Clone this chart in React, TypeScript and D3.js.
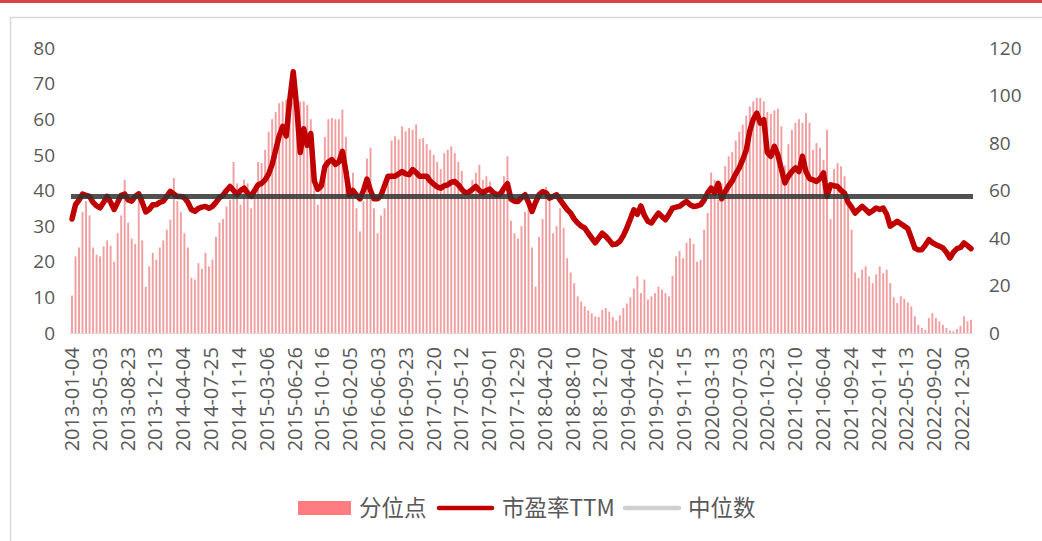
import React from 'react';
import * as d3 from 'd3';

// x-axis category labels (weekly trading dates, every 16th shown)
const dateLabels = [
  '2013-01-04', '2013-05-03', '2013-08-23', '2013-12-13', '2014-04-04', '2014-07-25',
  '2014-11-14', '2015-03-06', '2015-06-26', '2015-10-16', '2016-02-05', '2016-06-03',
  '2016-09-23', '2017-01-20', '2017-05-12', '2017-09-01', '2017-12-29', '2018-04-20',
  '2018-08-10', '2018-12-07', '2019-04-04', '2019-07-26', '2019-11-15', '2020-03-13',
  '2020-07-03', '2020-10-23', '2021-02-10', '2021-06-04', '2021-09-24', '2022-01-14',
  '2022-05-13', '2022-09-02', '2022-12-30',
];

// 分位点 (left axis)
const percentile = [
  10.5, 21.5, 24, 34, 37, 33, 24, 22, 21.5, 24.3, 26, 24.5, 20, 28, 33, 43, 31, 26.5, 25, 38,
  26, 13, 18.7, 22.5, 20.6, 24, 26, 29, 31.8, 43.5, 37, 34, 28, 24, 15.5, 15, 19.6, 18, 22.5, 18.7,
  20.6, 27, 31, 32, 35.5, 37.4, 48, 42, 36, 43, 42, 35, 41, 48, 47.7, 51.4, 56.5, 60, 62, 64.5,
  65, 65.5, 66, 65, 64, 65, 65, 64, 60, 48, 36, 41, 55, 60, 60.3, 60, 60, 62.7, 55, 42,
  45, 35, 28.5, 37, 49, 52, 35, 28, 33, 35, 42, 54, 55.2, 54.3, 58, 56.6, 57.5, 57, 58.5, 54.5,
  54.7, 53, 51.4, 50, 48, 46, 50.5, 51.4, 52.4, 50.5, 48, 45.5, 38, 40.5, 43, 45, 47.2, 43, 44, 42.5,
  40, 38.4, 39, 44, 49.6, 31.5, 28, 26.5, 30, 34, 36, 24, 13, 27, 32, 41, 38, 28, 30, 35,
  29.5, 21, 17, 14, 10.3, 8.8, 7.5, 6.3, 5.5, 4.6, 4.5, 6.5, 7, 6, 4.5, 3.5, 5, 7, 8.3, 10,
  12.5, 15.9, 11.2, 15, 9.4, 10.3, 11.2, 13, 12.2, 11.2, 10.3, 16, 21.5, 23, 21, 25.3, 26.6, 25, 20, 20.5,
  29, 33.7, 45, 43, 37.4, 42, 46.8, 49.6, 50.8, 54, 56.5, 58.5, 61, 63.6, 65, 66, 66, 65, 62, 61.5,
  62.5, 63, 58, 47, 53, 57, 59, 60, 59, 61.7, 59, 51.4, 53.3, 52, 48.6, 57, 32, 46, 47.7, 46.8,
  44, 36.5, 29, 17, 15.4, 17.8, 18.7, 15.9, 14, 16.5, 18.7, 16.8, 17.8, 14, 10, 8.4, 10.3, 9.6, 8.6, 7.5,
  4.7, 2.3, 1.4, 0.9, 4.2, 5.6, 4.2, 3.3, 2.3, 1.4, 0.7, 0.5, 1.1, 2, 4.7, 3.3, 3.7,
];

// 市盈率TTM (right axis)
const peTTM = [
  48, 54, 56, 58.5, 58, 57.5, 55, 53.5, 52.7, 55, 57.5, 55, 52, 55, 58, 58.5, 56, 55.5, 57.5, 58.6,
  55, 51, 52, 54, 54, 55, 55.5, 57.5, 59.6, 58.5, 57.5, 57.5, 57, 55, 52, 51.2, 52.5, 53, 53.3, 52.5,
  53.3, 55, 57, 58, 60, 61.7, 60, 58.2, 60, 61, 59, 57.5, 60, 62.4, 63, 64.5, 67, 71, 77, 83,
  87, 83, 98, 110, 95, 76, 86, 79, 84, 64, 60.5, 62, 70, 72, 73, 71, 72, 76.5, 68, 58,
  60, 58, 56.5, 60, 64.8, 60, 56.5, 56.5, 58, 62, 66, 66, 66, 67, 68, 67, 66.7, 68.8, 67.5, 66,
  66, 66, 64, 62.7, 61.5, 61, 62, 62.4, 63.5, 63.8, 62.4, 60.5, 59, 59.3, 60.5, 61.7, 60, 59, 60, 60.6,
  59, 58.2, 58.6, 61, 62.9, 56.4, 55.5, 55.4, 57, 58.2, 55, 51.2, 55, 58.2, 59.5, 59, 56.8, 57.5, 58.2, 56,
  54, 52, 50.5, 48, 46.3, 45, 44.2, 42, 40, 38, 40, 42, 40.7, 39, 37.2, 37.5, 38.6, 41, 44.2, 48,
  51.9, 50, 53.5, 49.5, 47, 46.3, 48.5, 50.5, 49, 47.7, 50, 52.6, 53, 53.3, 54.5, 55.4, 54, 53.3, 53.5, 54,
  56, 59, 61, 58.9, 63, 56.5, 59.5, 62, 64, 67, 69.5, 73, 77, 85, 90, 92.6, 88.4, 89.8, 76, 74.4,
  78.6, 75, 69, 63.2, 66, 68, 69.5, 68, 74.4, 68, 65, 64.5, 63.8, 65, 67.4, 57.5, 62.4, 62, 61.7, 60,
  58.9, 55, 53, 50.5, 52, 53.3, 52, 50.5, 51.5, 52.6, 52, 52.6, 50, 45, 46, 47, 46, 45, 44, 40,
  35.8, 35, 35.1, 37, 39.3, 38, 37.2, 36.5, 35.8, 34, 31.6, 34, 35.5, 36, 37.9, 36.8, 35.5,
];

const medianPE = 57.5;
const leftTicks = [0, 10, 20, 30, 40, 50, 60, 70, 80];
const rightTicks = [0, 20, 40, 60, 80, 100, 120];

const W = 1042;
const H = 541;
const plotLeft = 72;
const plotRight = 971;
const plotTop = 48;
const plotBottom = 333;
const txt = '#595959';
const numFont = '"Open Sans", "Liberation Sans", sans-serif';
const cjkFont = '"Noto Sans CJK SC", "Noto Sans", sans-serif';

export default function App() {
  const x = d3.scaleLinear().domain([0, percentile.length - 1]).range([plotLeft, plotRight]);
  const xLab = d3.scalePoint<string>().domain(dateLabels).range([72, 962]);
  const yL = d3.scaleLinear().domain([0, 80]).range([plotBottom, plotTop]);
  const yR = d3.scaleLinear().domain([0, 120]).range([plotBottom, plotTop]);

  const peLine = d3.line<number>()
    .x((_, i) => x(i))
    .y((d) => yR(d))(peTTM) || '';

  const barW = 1.9;

  return (
    <svg width={W} height={H} style={{ position: 'absolute', left: 0, top: 0, background: '#fff' }}>
      {/* page decoration */}
      <rect x={0} y={0} width={W} height={3} fill="#d9444a" />
      <path d={`M10.5,${H + 2} V17.5 H${W + 2}`} fill="none" stroke="#d9d9d9" strokeWidth={1.5} />

      {/* bars */}
      <g fill="#f09ea0">
        {percentile.map((v, i) => (
          <rect key={i} x={x(i) - barW / 2} y={yL(v)} width={barW} height={plotBottom - yL(v)} />
        ))}
      </g>
      <line x1={plotLeft - 2} x2={plotRight + 2} y1={plotBottom + 0.5} y2={plotBottom + 0.5} stroke="#e6d6d6" strokeWidth={1} />

      {/* PE line */}
      <path d={peLine} fill="none" stroke="#c00000" strokeWidth={5.5} strokeLinejoin="round" strokeLinecap="round" />

      {/* median */}
      <line x1={plotLeft - 1} x2={plotRight + 2} y1={yR(medianPE)} y2={yR(medianPE)} stroke="#333" strokeOpacity={0.85} strokeWidth={5} />

      {/* left axis */}
      <g fontFamily={numFont} fontSize={19} fill={txt} textAnchor="end">
        {leftTicks.map((t) => (
          <text key={t} x={55} y={yL(t)} dy="0.35em">{t}</text>
        ))}
      </g>
      {/* right axis */}
      <g fontFamily={numFont} fontSize={19} fill={txt} textAnchor="start">
        {rightTicks.map((t) => (
          <text key={t} x={989} y={yR(t)} dy="0.35em">{t}</text>
        ))}
      </g>
      {/* x labels */}
      <g fontFamily={numFont} fontSize={20} fill={txt} textAnchor="end">
        {dateLabels.map((d) => (
          <text key={d} transform={`translate(${xLab(d)},${347}) rotate(-90)`} dy="0.35em">{d}</text>
        ))}
      </g>

      {/* legend */}
      <g fontFamily={cjkFont} fontSize={22.5} fill={txt}>
        <rect x={298} y={501} width={53} height={14} fill="#ff7c80" />
        <text x={359} y={508} dy="0.36em">分位点</text>
        <line x1={439} x2={492} y1={508} y2={508} stroke="#c00000" strokeWidth={4.5} strokeLinecap="round" />
        <text x={502} y={508} dy="0.36em">市盈率TTM</text>
        <line x1={625} x2={679} y1={508} y2={508} stroke="#d0d0d0" strokeWidth={4.5} strokeLinecap="round" />
        <text x={688} y={508} dy="0.36em">中位数</text>
      </g>
    </svg>
  );
}
